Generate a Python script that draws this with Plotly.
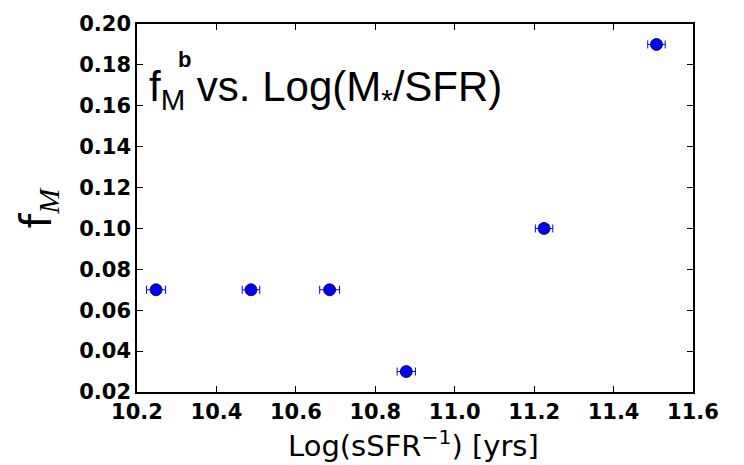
import plotly.graph_objects as go

x_vals = [10.248, 10.487, 10.685, 10.878, 11.225, 11.508]
y_vals = [0.07, 0.07, 0.07, 0.03, 0.10, 0.19]
x_err = [0.024, 0.022, 0.025, 0.023, 0.022, 0.022]
x_ticks = [10.2, 10.4, 10.6, 10.8, 11.0, 11.2, 11.4, 11.6]
y_ticks = [0.02, 0.04, 0.06, 0.08, 0.10, 0.12, 0.14, 0.16, 0.18, 0.20]

fig = go.Figure()
fig.add_trace(go.Scatter(
    x=x_vals, y=y_vals, mode="markers",
    marker=dict(color="#0000ff", size=12, line=dict(color="black", width=0.8)),
    error_x=dict(type="data", array=x_err, color="#0000ff", thickness=1, width=4),
    showlegend=False,
))

axis_common = dict(
    showgrid=False, zeroline=False, showline=True, linecolor="black", linewidth=1.5,
    mirror="allticks", ticks="inside", ticklen=6, tickwidth=1, tickcolor="black",
    tickfont=dict(family="DejaVu Sans", size=21, color="black", weight="bold"),
)
fig.update_xaxes(range=[10.2, 11.6], tickvals=x_ticks,
                 ticktext=[f"{v:.1f}" for v in x_ticks], **axis_common)
fig.update_yaxes(range=[0.02, 0.20], tickvals=y_ticks,
                 ticktext=[f"{v:.2f}" for v in y_ticks], **axis_common)

fig.update_layout(
    width=744, height=465,
    margin=dict(l=137, r=51, t=21, b=73),
    plot_bgcolor="white", paper_bgcolor="white",
    font=dict(family="DejaVu Sans", color="black"),
    annotations=[
        dict(text="Log(sSFR<sup>−1</sup>) [yrs]", xref="paper", yref="paper",
             x=0.497, y=-0.084, yanchor="top", xanchor="center", showarrow=False,
             font=dict(size=29, family="DejaVu Sans")),
        dict(text="f<sub><span style='font-family:Liberation Serif;font-style:italic;font-size:30px'>M</span></sub>",
             xref="paper", yref="paper",
             x=-0.125, y=0.5, xanchor="right", yanchor="middle", showarrow=False,
             textangle=-90, font=dict(size=42, family="DejaVu Sans")),
        dict(text="f<sub>M</sub> vs. Log(M<sub>*</sub>/SFR)", xref="paper", yref="paper",
             x=0.018, y=0.900, xanchor="left", yanchor="top", showarrow=False,
             font=dict(size=42, family="Liberation Sans")),
        dict(text="<b>b</b>", xref="paper", yref="paper",
             x=0.070, y=0.942, xanchor="left", yanchor="top", showarrow=False,
             font=dict(size=22, family="Liberation Sans")),
    ],
)

fig.write_html("out.html")
